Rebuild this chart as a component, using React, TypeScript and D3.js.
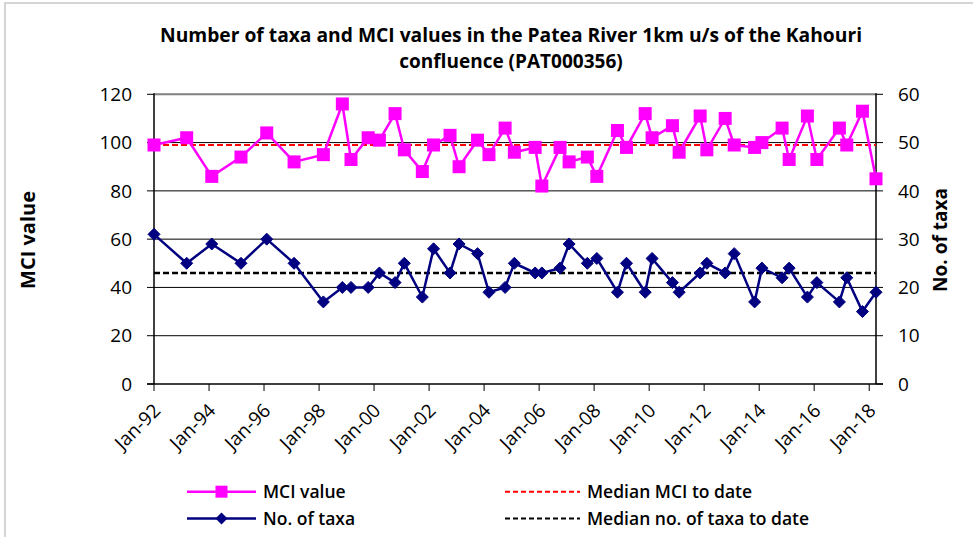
import React from "react";
import * as d3 from "d3";

// ---- Data ----
const sampleDates: string[] = [
  "1992-01-01", "1993-03-10", "1994-02-06", "1995-03-01", "1996-02-06", "1997-02-03",
  "1998-02-27", "1998-11-06", "1999-03-01", "1999-10-15", "2000-03-12", "2000-10-06",
  "2001-02-06", "2001-10-03", "2002-03-01", "2002-10-06", "2003-02-03", "2003-10-06",
  "2004-03-06", "2004-10-06", "2005-02-06", "2005-11-09", "2006-02-06", "2006-10-06",
  "2007-02-03", "2007-10-03", "2008-02-06", "2008-11-06", "2009-03-06", "2009-11-09",
  "2010-02-09", "2010-11-06", "2011-02-03", "2011-11-09", "2012-02-06", "2012-10-06",
  "2013-02-03", "2013-11-01", "2014-02-06", "2014-11-01", "2015-02-03", "2015-10-03",
  "2016-02-06", "2016-12-01", "2017-03-09", "2017-10-03", "2018-04-01",
];
const mciValues: number[] = [
  99, 102, 86, 94, 104, 92, 95, 116, 93, 102, 101, 112, 97, 88, 99, 103, 90, 101, 95, 106,
  96, 98, 82, 98, 92, 94, 86, 105, 98, 112, 102, 107, 96, 111, 97, 110, 99, 98, 100, 106,
  93, 111, 93, 106, 99, 113, 85,
];
const taxaValues: number[] = [
  31, 25, 29, 25, 30, 25, 17, 20, 20, 20, 23, 21, 25, 18, 28, 23, 29, 27, 19, 20,
  25, 23, 23, 24, 29, 25, 26, 19, 25, 19, 26, 21, 19, 23, 25, 23, 27, 17, 24, 22,
  24, 18, 21, 17, 22, 15, 19,
];
const leftTicks: number[] = [0, 20, 40, 60, 80, 100, 120];
const rightTicks: number[] = [0, 10, 20, 30, 40, 50, 60];
const xTickYears: number[] = [1992, 1994, 1996, 1998, 2000, 2002, 2004, 2006, 2008, 2010, 2012, 2014, 2016, 2018];
const titleLines: string[] = [
  "Number of taxa and MCI values in the Patea River 1km u/s of the Kahouri",
  "confluence (PAT000356)",
];
const legendItems = [
  { label: "MCI value", kind: "mci" },
  { label: "No. of taxa", kind: "taxa" },
  { label: "Median MCI to date", kind: "medMci" },
  { label: "Median no. of taxa to date", kind: "medTaxa" },
];

const parse = d3.timeParse("%Y-%m-%d");
const fmt = d3.timeFormat("%b-%y");

export default function App() {
  const W = 973, H = 537;
  const left = 154, right = 876, top = 94.3, bottom = 384;
  const dates = sampleDates.map((s) => parse(s) as Date);
  const x = d3.scaleTime().domain([dates[0], dates[dates.length - 1]]).range([left, right]);
  const yL = d3.scaleLinear().domain([0, 120]).range([bottom, top]);
  const yR = d3.scaleLinear().domain([0, 60]).range([bottom, top]);

  const medMci = d3.median(mciValues) as number;
  const medTaxa = d3.median(taxaValues) as number;

  const mciLine = d3.line<number>().x((_, i) => x(dates[i])).y((d) => yL(d))(mciValues) || "";
  const taxaLine = d3.line<number>().x((_, i) => x(dates[i])).y((d) => yR(d))(taxaValues) || "";

  const font = "'Open Sans', 'Segoe UI', sans-serif";
  const MAGENTA = "#FF00FF";
  const NAVY = "#000080";
  const sq = 13;
  const dia = 6;
  const diamond = (cx: number, cy: number, r: number) =>
    `M${cx},${cy - r}L${cx + r},${cy}L${cx},${cy + r}L${cx - r},${cy}Z`;

  const legRows = [491.7, 518.5];
  const legCols = [{ x0: 187, x1: 256, tx: 263 }, { x0: 505, x1: 580, tx: 587 }];

  return (
    <svg width={W} height={H} style={{ position: "absolute", left: 0, top: 0, background: "#fff" }}
      fontFamily={font}>
      <rect x={5} y={3} width={W + 10} height={H + 10} fill="#fff" stroke="#c8c8c8" strokeWidth={1.5} />
      {/* Title */}
      {titleLines.map((t, i) => (
        <text key={i} x={511} y={42 + i * 26} textAnchor="middle" fontSize={19} fontWeight="bold" fill="#000"
          textLength={i === 0 ? 702 : undefined} lengthAdjust="spacingAndGlyphs">{t}</text>
      ))}
      {/* Gridlines */}
      {leftTicks.filter((t) => t > 0 && t < 120).map((t) => (
        <line key={t} x1={left} x2={right} y1={yL(t)} y2={yL(t)} stroke="#000" strokeWidth={1} />
      ))}
      <line x1={left} x2={right} y1={top} y2={top} stroke="#808080" strokeWidth={2} />
      {/* Axes */}
      <line x1={left} x2={left} y1={top - 1} y2={bottom} stroke="#000" strokeWidth={1.5} />
      <line x1={right} x2={right} y1={top - 1} y2={bottom} stroke="#000" strokeWidth={1.5} />
      <line x1={left - 7} x2={right + 7} y1={bottom} y2={bottom} stroke="#000" strokeWidth={1.5} />
      {leftTicks.map((t) => (
        <g key={"l" + t}>
          <line x1={left - 7} x2={left} y1={yL(t)} y2={yL(t)} stroke="#000" strokeWidth={1} />
          <text x={132} y={yL(t)} dy="0.35em" textAnchor="end" fontSize={19} fill="#000">{t}</text>
        </g>
      ))}
      {rightTicks.map((t) => (
        <g key={"r" + t}>
          <line x1={right} x2={right + 7} y1={yR(t)} y2={yR(t)} stroke="#000" strokeWidth={1} />
          <text x={898} y={yR(t)} dy="0.35em" textAnchor="start" fontSize={19} fill="#000">{t}</text>
        </g>
      ))}
      {xTickYears.map((yr) => {
        const d = new Date(yr, 0, 1);
        const tx = x(d);
        return (
          <g key={"x" + yr}>
            <line x1={tx} x2={tx} y1={bottom} y2={bottom + 7} stroke="#000" strokeWidth={1} />
            <text transform={`translate(${tx + 3},${bottom + 23}) rotate(-45)`} textAnchor="end" dy="0.35em"
              fontSize={19} fill="#000">{fmt(d)}</text>
          </g>
        );
      })}
      {/* Axis titles */}
      <text transform={`translate(28,240) rotate(-90)`} textAnchor="middle" dy="0.35em" fontSize={20} fontWeight="bold">MCI value</text>
      <text transform={`translate(940,240) rotate(-90)`} textAnchor="middle" dy="0.35em" fontSize={19} fontWeight="bold">No. of taxa</text>
      {/* Median lines */}
      <line x1={left} x2={right} y1={yL(medMci)} y2={yL(medMci)} stroke="#FF0000" strokeWidth={2} strokeDasharray="6,3" />
      <line x1={left} x2={right} y1={yR(medTaxa)} y2={yR(medTaxa)} stroke="#000" strokeWidth={2.5} strokeDasharray="6,3" />
      {/* Series */}
      <path d={mciLine} fill="none" stroke={MAGENTA} strokeWidth={2.5} />
      {mciValues.map((v, i) => (
        <rect key={"m" + i} x={x(dates[i]) - sq / 2} y={yL(v) - sq / 2} width={sq} height={sq} fill={MAGENTA} />
      ))}
      <path d={taxaLine} fill="none" stroke={NAVY} strokeWidth={2.5} />
      {taxaValues.map((v, i) => (
        <path key={"t" + i} d={diamond(x(dates[i]), yR(v), dia)} fill={NAVY} stroke={NAVY} strokeWidth={1} />
      ))}
      {/* Legend */}
      {legendItems.map((it, i) => {
        const col = legCols[i < 2 ? 0 : 1];
        const ry = legRows[i % 2];
        const mid = (col.x0 + col.x1) / 2;
        return (
          <g key={it.kind}>
            {it.kind === "mci" && (
              <>
                <line x1={col.x0} x2={col.x1} y1={ry} y2={ry} stroke={MAGENTA} strokeWidth={2.5} />
                <rect x={mid - 6} y={ry - 6} width={12} height={12} fill={MAGENTA} />
              </>
            )}
            {it.kind === "taxa" && (
              <>
                <line x1={col.x0} x2={col.x1} y1={ry} y2={ry} stroke={NAVY} strokeWidth={2.5} />
                <path d={diamond(mid, ry, 6)} fill={NAVY} />
              </>
            )}
            {it.kind === "medMci" && (
              <line x1={col.x0} x2={col.x1} y1={ry} y2={ry} stroke="#FF0000" strokeWidth={2} strokeDasharray="5,3" />
            )}
            {it.kind === "medTaxa" && (
              <line x1={col.x0} x2={col.x1} y1={ry} y2={ry} stroke="#000" strokeWidth={2} strokeDasharray="5,3" />
            )}
            <text x={col.tx} y={ry} dy="0.35em" fontSize={17.5} fontWeight={600} fill="#000">{it.label}</text>
          </g>
        );
      })}
    </svg>
  );
}
